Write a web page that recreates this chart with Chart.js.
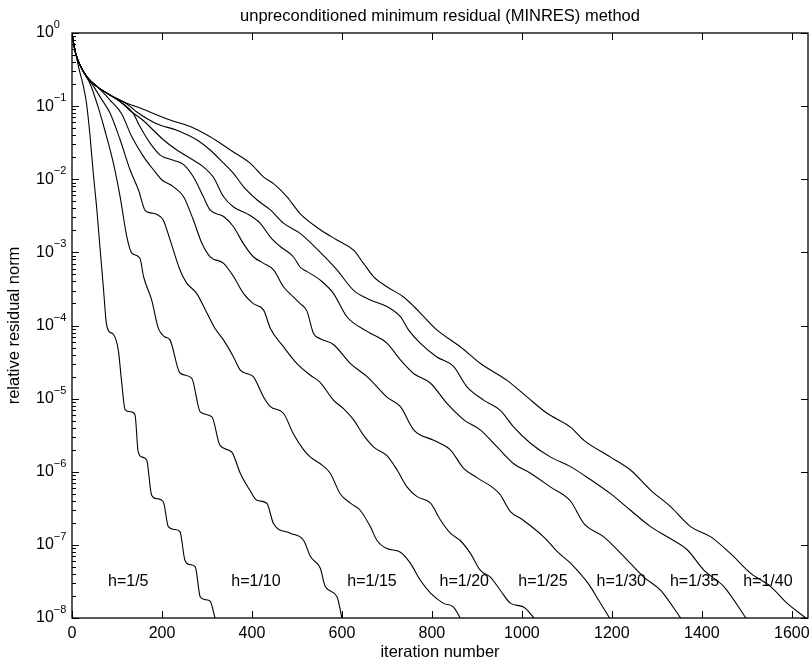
<!DOCTYPE html>
<html>
<head>
<meta charset="utf-8">
<script src="https://cdn.jsdelivr.net/npm/chart.js@4.4.1/dist/chart.umd.min.js"></script>
<style>
  body { margin: 0; background: #fff; }
  #wrap { width: 809px; height: 661px; }
</style>
</head>
<body>
<div id="wrap"><canvas id="myChart" width="809" height="661"></canvas></div>
<script>
// curves: [iteration, log10(relative residual norm)]
var h5 = [[0,0],[3,-0.12],[9,-0.3],[16,-0.5],[25,-0.72],[32,-0.95],[40,-1.4],[47,-1.9],[55,-2.4],[62,-2.92],[70,-3.5],[76,-3.95],[82,-4.08],[92,-4.12],[103,-4.34],[110,-4.75],[118,-5.15],[130,-5.18],[140,-5.22],[147,-5.72],[156,-5.8],[166,-5.84],[177,-6.32],[190,-6.37],[203,-6.41],[214,-6.75],[228,-6.79],[240,-6.82],[251,-7.21],[262,-7.27],[274,-7.3],[285,-7.71],[297,-7.75],[307,-7.77],[318,-8]];
var h10 = [[0,0],[3,-0.12],[9,-0.3],[18,-0.44],[30,-0.58],[40,-0.69],[58,-1.01],[73,-1.33],[92,-1.78],[107,-2.24],[122,-2.79],[133,-3.01],[151,-3.08],[159,-3.33],[177,-3.65],[192,-4.04],[205,-4.15],[218,-4.2],[240,-4.65],[266,-4.72],[285,-5.18],[311,-5.25],[329,-5.64],[355,-5.73],[374,-6.02],[395,-6.25],[411,-6.39],[433,-6.43],[448,-6.71],[485,-6.84],[515,-6.94],[530,-7.16],[552,-7.32],[563,-7.57],[589,-7.71],[600,-8]];
var h15 = [[0,0],[3,-0.12],[9,-0.3],[18,-0.44],[33,-0.6],[50,-0.75],[62,-0.87],[85,-1.1],[107,-1.46],[129,-1.87],[148,-2.15],[162,-2.42],[175,-2.46],[188,-2.48],[203,-2.56],[218,-2.83],[240,-3.24],[255,-3.42],[277,-3.56],[300,-3.83],[318,-4.04],[337,-4.2],[359,-4.43],[374,-4.61],[390,-4.66],[403,-4.7],[426,-4.98],[441,-5.11],[470,-5.2],[492,-5.48],[515,-5.7],[530,-5.8],[552,-5.89],[574,-6.02],[596,-6.3],[619,-6.43],[641,-6.53],[663,-6.75],[678,-6.94],[700,-7.05],[730,-7.1],[752,-7.25],[774,-7.48],[797,-7.66],[826,-7.8],[848,-7.85],[863,-8]];
var h20 = [[0,0],[3,-0.12],[9,-0.3],[18,-0.44],[33,-0.6],[55,-0.73],[70,-0.82],[85,-0.92],[110,-1.1],[133,-1.42],[159,-1.69],[181,-1.87],[200,-2.01],[225,-2.1],[248,-2.24],[270,-2.56],[289,-2.88],[307,-3.06],[337,-3.15],[359,-3.33],[381,-3.56],[403,-3.7],[426,-3.79],[441,-4.04],[470,-4.29],[500,-4.52],[530,-4.68],[552,-4.78],[581,-5.02],[604,-5.14],[626,-5.29],[648,-5.5],[670,-5.66],[700,-5.78],[723,-5.98],[745,-6.21],[767,-6.34],[797,-6.43],[819,-6.66],[841,-6.84],[863,-6.94],[886,-7.12],[908,-7.35],[930,-7.44],[952,-7.62],[975,-7.8],[1004,-7.85],[1027,-8]];
var h25 = [[0,0],[3,-0.12],[9,-0.3],[18,-0.44],[33,-0.6],[55,-0.73],[85,-0.85],[107,-0.94],[136,-1.1],[151,-1.28],[174,-1.51],[196,-1.67],[225,-1.74],[248,-1.8],[270,-1.97],[292,-2.24],[307,-2.42],[337,-2.51],[359,-2.65],[381,-2.88],[403,-3.06],[426,-3.15],[448,-3.24],[470,-3.47],[492,-3.61],[507,-3.7],[522,-3.8],[537,-4.11],[552,-4.18],[581,-4.26],[619,-4.52],[656,-4.7],[700,-4.98],[730,-5.11],[760,-5.43],[804,-5.57],[841,-5.7],[870,-5.95],[900,-6.08],[950,-6.3],[975,-6.55],[1000,-6.65],[1050,-6.9],[1080,-7.1],[1108,-7.25],[1150,-7.55],[1170,-7.75],[1195,-8]];
var h30 = [[0,0],[3,-0.12],[9,-0.3],[18,-0.44],[33,-0.6],[55,-0.73],[85,-0.85],[110,-0.95],[129,-1.06],[159,-1.2],[181,-1.33],[203,-1.46],[233,-1.6],[270,-1.74],[292,-1.83],[314,-1.97],[337,-2.24],[359,-2.38],[389,-2.47],[418,-2.6],[441,-2.79],[463,-2.92],[492,-3.06],[507,-3.2],[522,-3.26],[552,-3.38],[581,-3.56],[611,-3.88],[656,-4.08],[700,-4.24],[730,-4.47],[760,-4.66],[797,-4.79],[834,-5.07],[871,-5.29],[908,-5.43],[945,-5.66],[982,-5.89],[1019,-6.02],[1064,-6.21],[1108,-6.4],[1138,-6.71],[1182,-6.89],[1227,-7.16],[1271,-7.44],[1308,-7.62],[1353,-8]];
var h35 = [[0,0],[3,-0.12],[9,-0.3],[18,-0.44],[33,-0.6],[55,-0.73],[85,-0.85],[122,-0.97],[144,-1.08],[188,-1.24],[233,-1.33],[277,-1.46],[307,-1.6],[337,-1.78],[359,-1.92],[381,-2.1],[411,-2.28],[441,-2.42],[470,-2.6],[507,-2.74],[552,-3.0],[589,-3.24],[626,-3.52],[663,-3.65],[700,-3.74],[730,-3.88],[748,-4.06],[774,-4.24],[811,-4.43],[848,-4.56],[878,-4.84],[915,-5.02],[952,-5.16],[982,-5.39],[1019,-5.61],[1064,-5.8],[1108,-5.93],[1153,-6.11],[1197,-6.3],[1242,-6.53],[1286,-6.75],[1323,-6.89],[1368,-7.07],[1405,-7.35],[1449,-7.57],[1498,-8]];
var h40 = [[0,0],[3,-0.12],[9,-0.3],[18,-0.44],[33,-0.6],[55,-0.73],[85,-0.85],[122,-0.96],[144,-1.01],[218,-1.19],[263,-1.28],[307,-1.42],[352,-1.6],[396,-1.78],[426,-1.97],[448,-2.06],[478,-2.24],[507,-2.47],[552,-2.69],[589,-2.83],[626,-2.97],[648,-3.15],[670,-3.33],[700,-3.47],[737,-3.61],[760,-3.74],[782,-3.88],[811,-4.06],[863,-4.29],[908,-4.52],[967,-4.75],[1012,-4.98],[1056,-5.2],[1108,-5.39],[1138,-5.57],[1197,-5.8],[1242,-5.98],[1286,-6.25],[1331,-6.48],[1375,-6.75],[1420,-6.89],[1464,-7.12],[1509,-7.39],[1553,-7.57],[1590,-7.8],[1631,-8]];

var curveNames = ['h=1/5', 'h=1/10', 'h=1/15', 'h=1/20', 'h=1/25', 'h=1/30', 'h=1/35', 'h=1/40'];
var curves = [h5, h10, h15, h20, h25, h30, h35, h40];
// where the curve labels sit (left edge, in iterations) and their height
var labelIters = [80, 354, 612, 817, 992, 1166, 1329, 1492];
var labelLevel = -7.5;

var yTickExps = [0, -1, -2, -3, -4, -5, -6, -7, -8];
var xTicks = [0, 200, 400, 600, 800, 1000, 1200, 1400, 1600];

var FONT = "'Liberation Sans', Arial, Helvetica, sans-serif";

function toPoints(arr) {
    return arr.map(function (p) { return { x: p[0], y: Math.pow(10, p[1]) }; });
}

var datasets = curves.map(function (c, i) {
    return {
        label: curveNames[i],
        data: toPoints(c),
        borderColor: '#000',
        borderWidth: 1.1,
        pointRadius: 0,
        fill: false,
        cubicInterpolationMode: 'monotone'
    };
});

// axes box, inward ticks, tick labels, titles and the h= labels
var decorations = {
    id: 'decorations',
    afterDatasetsDraw: function (chart) {
        var ctx = chart.ctx;
        var a = chart.chartArea;
        var xs = chart.scales.x, ys = chart.scales.y;
        ctx.save();
        ctx.strokeStyle = '#000';
        ctx.lineWidth = 1.3;
        ctx.strokeRect(a.left, a.top, a.right - a.left, a.bottom - a.top);

        ctx.lineWidth = 1;
        ctx.beginPath();
        xTicks.forEach(function (t) {
            var px = Math.round(xs.getPixelForValue(t)) + 0.5;
            ctx.moveTo(px, a.bottom); ctx.lineTo(px, a.bottom - 7);
            ctx.moveTo(px, a.top); ctx.lineTo(px, a.top + 7);
        });
        yTickExps.forEach(function (e) {
            var py = Math.round(ys.getPixelForValue(Math.pow(10, e))) + 0.5;
            ctx.moveTo(a.left, py); ctx.lineTo(a.left + 7, py);
            ctx.moveTo(a.right, py); ctx.lineTo(a.right - 7, py);
            if (e > -8) {
                for (var m = 2; m <= 9; m++) {
                    var pm = Math.round(ys.getPixelForValue(m * Math.pow(10, e - 1))) + 0.5;
                    ctx.moveTo(a.left, pm); ctx.lineTo(a.left + 4, pm);
                }
            }
        });
        ctx.stroke();

        ctx.fillStyle = '#000';
        ctx.textBaseline = 'middle';
        ctx.textAlign = 'left';
        yTickExps.forEach(function (e) {
            var py = ys.getPixelForValue(Math.pow(10, e));
            ctx.font = '16px ' + FONT;
            ctx.fillText('10', 36, py);
            var w = ctx.measureText('10').width;
            ctx.font = '11px ' + FONT;
            ctx.fillText(e === 0 ? '0' : '\u2212' + (-e), 36 + w, py - 8);
        });

        ctx.font = '16px ' + FONT;
        labelIters.forEach(function (it, i) {
            ctx.fillText(curveNames[i], xs.getPixelForValue(it), ys.getPixelForValue(Math.pow(10, labelLevel)));
        });

        ctx.textAlign = 'center';
        xTicks.forEach(function (t) {
            ctx.fillText(String(t), xs.getPixelForValue(t), 634);
        });

        ctx.font = '16.5px ' + FONT;
        ctx.fillText('unpreconditioned minimum residual (MINRES) method', (a.left + a.right) / 2, 16);
        ctx.fillText('iteration number', (a.left + a.right) / 2, 652);

        ctx.translate(14, (a.top + a.bottom) / 2);
        ctx.rotate(-Math.PI / 2);
        ctx.fillText('relative residual norm', 0, 0);
        ctx.restore();
    }
};

var ctx = document.getElementById('myChart').getContext('2d');
var myChart = new Chart(ctx, {
    type: 'line',
    data: { datasets: datasets },
    options: {
        responsive: false,
        animation: false,
        layout: { padding: { top: 33, right: 1, left: 0, bottom: 0 } },
        plugins: {
            legend: { display: false },
            tooltip: { enabled: false }
        },
        scales: {
            x: {
                type: 'linear',
                min: 0,
                max: 1636,
                grid: { display: false },
                border: { display: false },
                ticks: { display: false },
                afterFit: function (scale) { scale.height = 43; }
            },
            y: {
                type: 'logarithmic',
                min: 1e-8,
                max: 1,
                grid: { display: false },
                border: { display: false },
                ticks: { display: false },
                afterFit: function (scale) { scale.width = 72; }
            }
        }
    },
    plugins: [decorations]
});
</script>
</body>
</html>
